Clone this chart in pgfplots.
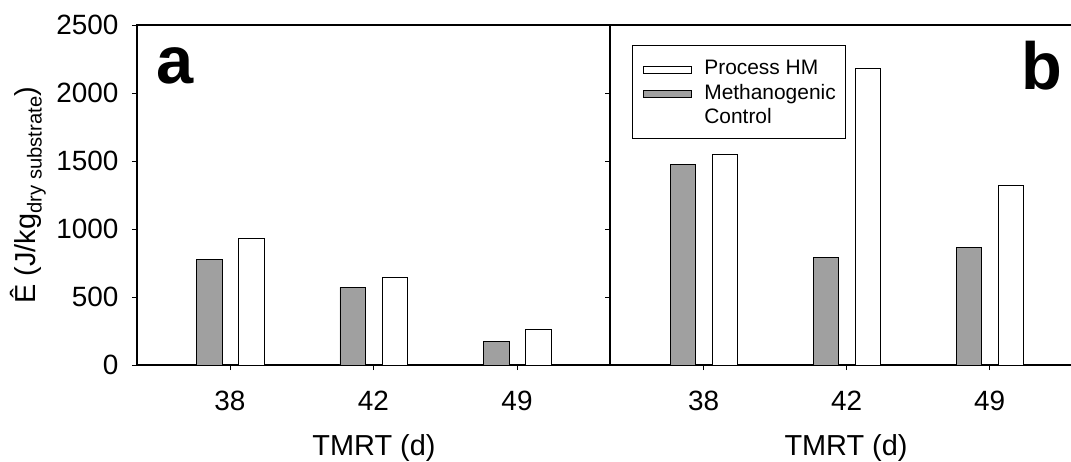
\documentclass[border=0pt]{standalone}
\usepackage{fontspec}
\setmainfont{Liberation Sans}
\usepackage{pgfplots}
\pgfplotsset{compat=1.18}

\definecolor{bargray}{RGB}{160,160,160}

\pgfplotsset{
  panel/.style={
    scale only axis,
    height=340bp,
    ymin=0, ymax=2500,
    ytick={0,500,...,2500},
    xtick={0,1,2}, xticklabels={38,42,49},
    tick align=outside,
    major tick length=5bp,
    tick pos=left,
    tick style={black, line width=0.8bp},
    axis line style={line width=1.2bp},
    ticklabel style={font=\fontsize{28}{32}\selectfont},
    yticklabel style={xshift=-10bp},
    xticklabel style={yshift=-17bp},
    label style={font=\fontsize{29}{33}\selectfont},
    /pgf/number format/assume math mode=true,
    /pgf/number format/1000 sep={},
    xlabel={TMRT (d)},
  },
  rectleg/.style={legend image code/.code={\draw[##1] (0bp,-5.5bp) rectangle (48bp,1.5bp);}},
  hmbar/.style={ybar, bar width=0.178, bar shift=0.15, fill=white, draw=black, line width=0.8bp, rectleg},
  mcbar/.style={ybar, bar width=0.178, bar shift=-0.145, fill=bargray, draw=black, line width=0.8bp, rectleg},
}

\begin{document}
\begin{tikzpicture}

% panel a
\begin{axis}[
  panel,
  at={(0,0)}, anchor=south west,
  width=473bp,
  xmin=-0.648, xmax=2.648,
  xlabel style={at={(axis description cs:0.501,0)}, anchor=center, yshift=-83bp},
  ylabel={Ê (J/kg\textsubscript{dry substrate})},
  ylabel style={at={(axis description cs:-0.2304,0.5)}, anchor=center},
]
\addplot[hmbar] coordinates {(0,931) (1,647) (2,260)};
\addplot[mcbar] coordinates {(0,774) (1,571) (2,174)};
\node[anchor=base west, font=\fontsize{67}{67}\selectfont\bfseries]
  at (rel axis cs:0.034,0.829) {a};
\end{axis}

% panel b
\begin{axis}[
  panel,
  at={(473bp,0)}, anchor=south west,
  width=461bp,
  xmin=-0.655, xmax=2.569,
  axis x line*=box, axis y line*=left,
  tick pos=left,
  yticklabels={},
  xlabel style={at={(axis description cs:0.512,0)}, anchor=center, yshift=-83bp},
  legend cell align=left,
  legend style={at={(rel axis cs:0.048,0.941)}, anchor=north west,
    draw=black, line width=0.8bp,
    font=\fontsize{21}{24}\selectfont,
    nodes={inner sep=0bp, text height=15bp, text depth=0bp},
    inner xsep=10bp, inner ysep=14.5bp,
    row sep=9.5bp, column sep=13bp},
]
\addplot[hmbar] coordinates {(0,1546) (1,2179) (2,1321)};
\addlegendentry{Process HM}
\addplot[mcbar] coordinates {(0,1476) (1,794) (2,862)};
\addlegendentry{Methanogenic}
\addlegendimage{empty legend}
\addlegendentry{Control}
\node[anchor=base east, font=\fontsize{67}{67}\selectfont\bfseries]
  at (rel axis cs:0.989,0.809) {b};
\end{axis}

\pgfresetboundingbox
\useasboundingbox (-137bp,-97bp) rectangle (934bp,365bp);
\end{tikzpicture}
\end{document}
